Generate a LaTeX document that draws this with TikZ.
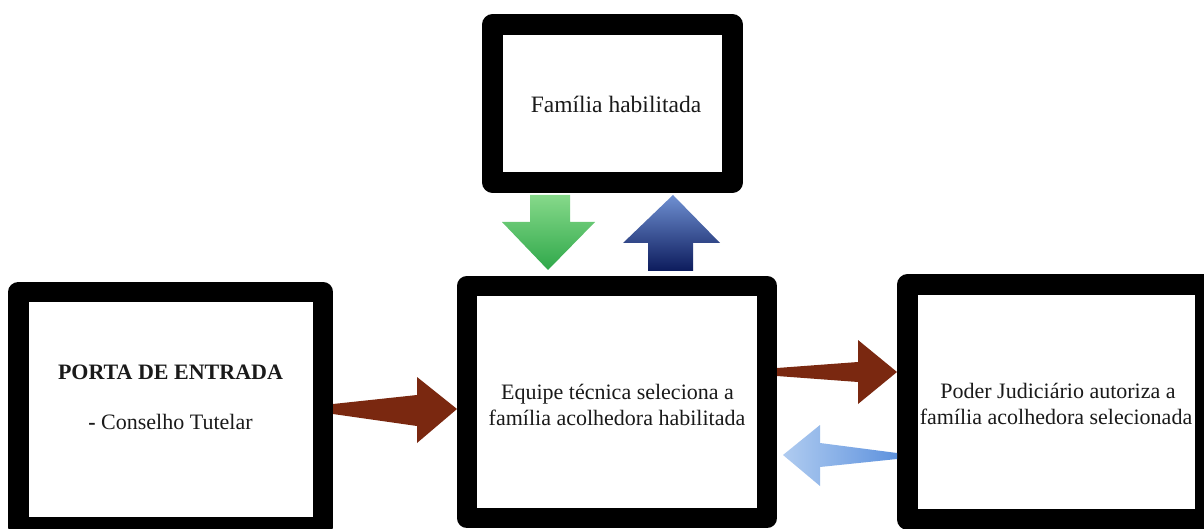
\documentclass[tikz,border=0pt]{standalone}
\usepackage{fontspec}
\setmainfont{Liberation Serif}
\definecolor{txt}{HTML}{1A1A1A}
\definecolor{brownarrow}{HTML}{7A2810}
\definecolor{greenlight}{HTML}{86D98A}
\definecolor{greendark}{HTML}{2FA84A}
\definecolor{bluelight}{HTML}{6F90D2}
\definecolor{bluedark}{HTML}{0C1B5C}
\definecolor{skylight}{HTML}{B0CCF0}
\definecolor{skydark}{HTML}{5E92DE}
\begin{document}
\begin{tikzpicture}[x=1pt,y=-1pt,
  framebox/.style={rectangle,draw=black,line width=20.5pt,line join=round,fill=white,inner sep=0pt},
  lbl/.style={anchor=base,inner sep=0pt,text=txt,font=\fontsize{22}{26}\selectfont},
  toplbl/.style={anchor=base,inner sep=0pt,text=txt,font=\fontsize{23.5}{28}\selectfont}]
\useasboundingbox (0,0) rectangle (1204,529);
\fill[white] (0,0) rectangle (1204,529);
\clip (0,0) rectangle (1204,529);

% boxes
\node[framebox,minimum width=304.5pt,minimum height=235pt] (porta) at (170.75,409.5) {};
\node[framebox,minimum width=240pt,minimum height=158pt] (familia) at (612.5,103.5) {};
\node[framebox,minimum width=300pt,minimum height=232pt] (equipe) at (617,402) {};
\node[framebox,minimum width=298pt,minimum height=235pt] (poder) at (1056.5,402) {};

% texts
\node[lbl,font=\fontsize{22}{26}\selectfont\bfseries] (t1) at (170.5,379) {PORTA DE ENTRADA};
\node[lbl] (t2) at (170.5,429) {\textbf{-} Conselho Tutelar};
\node[toplbl] (t3) at (616,113) {Família habilitada};
\node[lbl] (t4) at (617.5,399) {Equipe técnica seleciona a};
\node[lbl] (t5) at (617,425) {família acolhedora habilitada};
\node[lbl] (t6) at (1058,398) {Poder Judiciário autoriza a};
\node[lbl] (t7) at (1056,424) {família acolhedora selecionada};

% green down arrow
\shade[top color=greenlight,bottom color=greendark]
  (530,195) -- (570,195) -- (570,222) -- (595,222) -- (548,270) -- (502,222) -- (530,222) -- cycle;
% blue up arrow
\shade[top color=bluelight,bottom color=bluedark]
  (673,195) -- (720,243) -- (693,243) -- (693,271) -- (648,271) -- (648,243) -- (623,243) -- cycle;
% brown arrow porta -> equipe
\fill[brownarrow]
  (333,404) -- (417,395) -- (417,377) -- (457,409) -- (417,443) -- (417,426) -- (333,414) -- cycle;
% brown arrow equipe -> poder
\fill[brownarrow]
  (777,368) -- (858,362) -- (858,340) -- (897,372) -- (858,404) -- (858,382) -- (777,376) -- cycle;
% light blue arrow poder -> equipe
\shade[left color=skylight,right color=skydark]
  (897,453) -- (820,443) -- (820,425) -- (783,455) -- (820,486) -- (820,467) -- (897,459) -- cycle;
\end{tikzpicture}
\end{document}
